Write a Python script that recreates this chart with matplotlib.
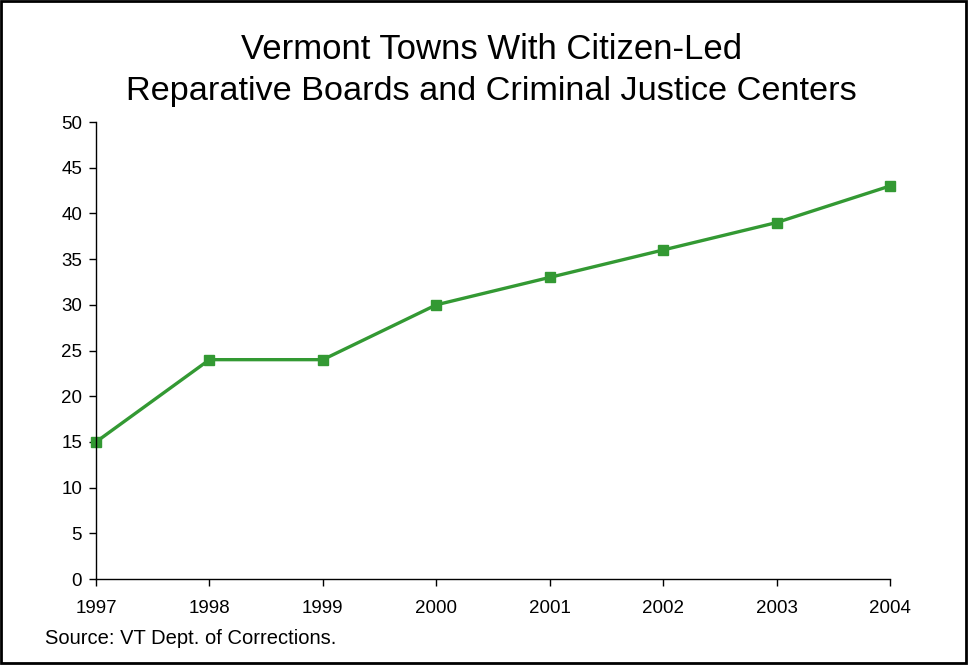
import matplotlib
matplotlib.use("Agg")
import matplotlib.pyplot as plt
from matplotlib.patches import Rectangle

plt.rcParams['font.family'] = ['Liberation Sans', 'DejaVu Sans']

years = ['1997', '1998', '1999', '2000', '2001', '2002', '2003', '2004']
towns = [15, 24, 24, 30, 33, 36, 39, 43]

fig = plt.figure(figsize=(9.68, 6.65), dpi=100)
ax = fig.add_axes([0.0992, 0.1293, 0.8202, 0.6872])

x = list(range(len(years)))
ax.plot(x, towns, color='#339933', linewidth=2.4, marker='s', markersize=6.5,
        markerfacecolor='#339933', markeredgecolor='#339933', clip_on=False)

ax.set_xlim(0, len(years) - 1)
ax.set_ylim(0, 50)
ax.set_yticks(range(0, 51, 5))
ax.set_xticks(x)
ax.set_xticklabels(years)
ax.tick_params(axis='both', labelsize=13.5, direction='out', length=5, width=1, pad=5)
ax.tick_params(axis='x', pad=10)
for side in ('top', 'right'):
    ax.spines[side].set_visible(False)
for side in ('left', 'bottom'):
    ax.spines[side].set_linewidth(1)

# two-line title
fig.text(0.508, 0.9263, 'Vermont Towns With Citizen-Led', ha='center', va='center', fontsize=25)
fig.text(0.508, 0.8617, 'Reparative Boards and Criminal Justice Centers', ha='center', va='center', fontsize=24.7)
fig.text(0.047, 0.040, 'Source: VT Dept. of Corrections.', ha='left', va='center', fontsize=14.5)

# black border around the whole figure
fig.patches.append(Rectangle((0.001, 0.003), 0.997, 0.995, transform=fig.transFigure,
                             fill=False, edgecolor='black', linewidth=2))

fig.savefig('out.png', dpi=100)
